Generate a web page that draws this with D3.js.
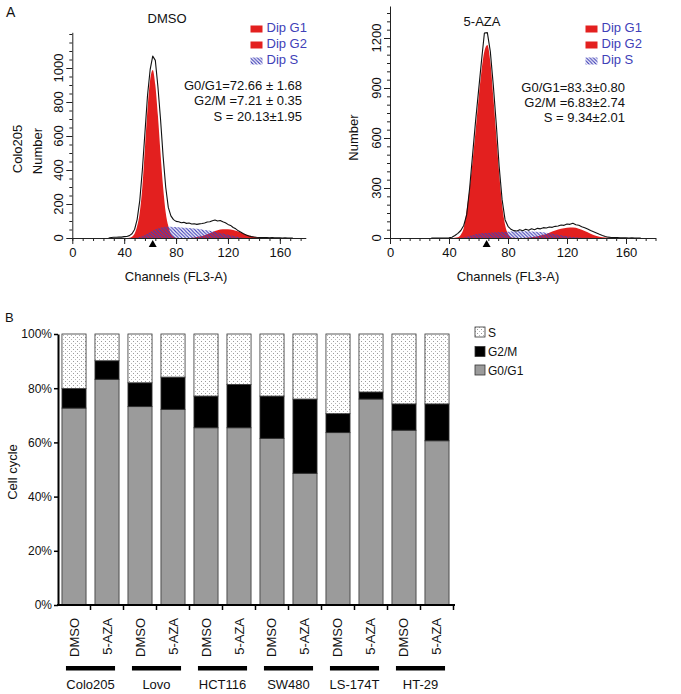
<!DOCTYPE html>
<html><head><meta charset="utf-8">
<script src="https://cdn.jsdelivr.net/npm/d3@7"></script>
<style>body{margin:0;background:#fff} svg{display:block} text{font-family:Arial,"Liberation Sans",sans-serif;fill:#111}</style>
</head><body>
<svg id="fig" width="681" height="694"></svg>
<script>
// ---------- Panel A data (flow-cytometry histograms) ----------
const outlineChannels = d3.range(28, 172, 2);
const dmsoOutline = [0,3,4,4,6,5,8,9,14,25,50,110,220,400,620,840,990,1070,1045,890,700,480,300,180,130,108,98,96,90,92,86,88,82,84,80,83,85,88,94,96,102,106,100,103,95,90,80,74,62,54,42,34,25,18,12,8,6,4,3,3,2,2,1,2,1,1,1,0,1,0,0,0];
const azaOutline  = [0,0,0,0,0,0,1,5,15,28,45,75,140,300,500,700,880,1060,1230,1232,1120,920,690,430,230,110,70,52,44,42,50,44,52,46,55,50,58,55,62,60,66,64,70,72,78,76,84,82,88,80,76,68,62,54,45,38,30,22,15,9,5,3,2,2,1,1,1,0,1,0,0,0];

const dmsoG1Ch = d3.range(42, 84, 2);
const dmsoG1   = [0,2,8,25,70,150,300,530,760,930,988,900,720,500,300,150,70,25,8,2,0];
const azaG1Ch  = d3.range(42, 88, 2);
const azaG1    = [0,2,5,20,60,170,300,460,640,830,1000,1120,1158,1060,850,620,390,200,80,25,5,1,0];

const g2Ch   = d3.range(88, 156, 4);
const dmsoG2 = [0,2,6,12,22,34,45,51,52,47,38,27,16,8,3,1,0];
const azaG2  = [0,2,5,10,19,32,45,55,62,63,56,42,26,12,4,1,0];

const sCh    = d3.range(48, 140, 4);
const dmsoS  = [0,6,18,35,50,60,66,66,64,62,60,57,54,50,45,40,33,26,19,12,6,2,0];
const azaS   = [0,8,18,25,30,32,34,36,38,40,40,40,39,37,34,29,23,17,11,6,3,1,0];

const legendLabels = ["Dip G1","Dip G2","Dip S"];
const dmsoStats = ["G0/G1=72.66 \u00b1 1.68","G2/M =7.21 \u00b1 0.35","S = 20.13\u00b11.95"];
const azaStats  = ["G0/G1=83.3\u00b10.80","G2/M =6.83\u00b12.74","S = 9.34\u00b12.01"];
const dmsoYTicks = [0,200,400,600,800,1000];
const azaYTicks  = [0,300,600,900,1200];
const xTicks = [0,40,80,120,160];

// ---------- Panel B data (stacked cell-cycle bars) ----------
const cellLines  = ["Colo205","Lovo","HCT116","SW480","LS-174T","HT-29"];
const treatments = ["DMSO","5-AZA"];
const g0g1  = [72.66,83.3,73.2,72.2,65.4,65.4,61.5,48.6,63.6,76.0,64.5,60.6];
const g2m   = [7.21,6.83,8.8,11.9,11.7,16.0,15.6,27.4,7.0,2.6,9.7,13.6];
const sPh   = [20.13,9.87,18.0,15.9,22.9,18.6,22.9,24.0,29.4,21.4,25.8,25.8];
const pctTicks = [0,20,40,60,80,100];

const RED = "#e3201f";
const BLUE = "#4040b8";
const svg = d3.select("#fig");
const defs = svg.append("defs");
const hatch = defs.append("pattern").attr("id","hatch").attr("patternUnits","userSpaceOnUse")
  .attr("width",3.5).attr("height",3.5);
hatch.append("path").attr("d","M-1,-1L4.5,4.5M-1,2.5L1,4.5M2.5,-1L4.5,1").attr("stroke",BLUE).attr("stroke-width",1.1);
const dots = defs.append("pattern").attr("id","dots").attr("patternUnits","userSpaceOnUse")
  .attr("width",4).attr("height",4);
dots.append("rect").attr("width",4).attr("height",4).attr("fill","#fff");
dots.append("rect").attr("x",1).attr("y",1).attr("width",1).attr("height",1).attr("fill","#9a9a9a");
dots.append("rect").attr("x",3).attr("y",3).attr("width",1).attr("height",1).attr("fill","#b5b5b5");

svg.append("text").attr("x",6).attr("y",17).attr("font-size",14).text("A");

function drawHist(p){
  const x = d3.scaleLinear().domain([0,180]).range(p.xr);
  const y = d3.scaleLinear().domain([0,p.ymax]).range([238,p.ytop]);
  const g = svg.append("g");
  const area = d3.area().x(d=>x(d[0])).y0(y(0)).y1(d=>y(d[1])).curve(d3.curveMonotoneX);
  g.append("path").datum(d3.zip(p.g1Ch,p.g1)).attr("d",area).attr("fill",RED);
  g.append("path").datum(d3.zip(g2Ch,p.g2)).attr("d",area).attr("fill",RED);
  g.append("path").datum(d3.zip(sCh,p.s)).attr("d",area).attr("fill","url(#hatch)");
  const line = d3.line().x(d=>x(d[0])).y(d=>y(d[1]));
  g.append("path").datum(d3.zip(outlineChannels,p.out)).attr("d",line)
    .attr("fill","none").attr("stroke","#111").attr("stroke-width",1.1).attr("stroke-linejoin","round");

  // x axis
  const minorX = d3.range(0,180.01,40/p.xsub);
  g.append("g").attr("transform","translate(0,238)")
    .call(d3.axisBottom(x).tickValues(minorX).tickSize(3).tickSizeOuter(0).tickFormat(""))
    .call(a=>a.selectAll("line,path").attr("stroke","#222"));
  g.append("g").attr("transform","translate(0,238)")
    .call(d3.axisBottom(x).tickValues(xTicks).tickSize(6).tickSizeOuter(0).tickFormat(d3.format("d")))
    .call(a=>{a.select(".domain").remove();a.selectAll("line").attr("stroke","#222");
      a.selectAll("text").attr("font-size",13).attr("font-family","Arial,'Liberation Sans',sans-serif").attr("fill","#111").attr("y",10);});
  g.append("text").attr("x",x(80)).attr("y",281).attr("text-anchor","middle").attr("font-size",13).text("Channels (FL3-A)");

  // y axis
  const minorY = d3.range(0,p.ymax+0.1,p.yminor);
  g.append("g").attr("transform",`translate(${p.xr[0]},0)`)
    .call(d3.axisLeft(y).tickValues(minorY).tickSize(3).tickSizeOuter(0).tickFormat(""))
    .call(a=>a.selectAll("line,path").attr("stroke","#222"));
  g.append("g").attr("transform",`translate(${p.xr[0]},0)`)
    .call(d3.axisLeft(y).tickValues(p.yticks).tickSize(6).tickSizeOuter(0).tickFormat(""))
    .call(a=>{a.select(".domain").remove();a.selectAll("line").attr("stroke","#222");});
  g.selectAll(".ylab").data(p.yticks).join("text")
    .attr("transform",d=>`translate(${p.xr[0]-9},${y(d)}) rotate(-90)`)
    .attr("text-anchor","middle").attr("font-size",13).text(d=>d);
  p.ytitles.forEach(t=>{
    g.append("text").attr("transform",`translate(${t[0]},${t[1]}) rotate(-90)`)
      .attr("text-anchor","middle").attr("font-size",13).text(t[2]);
  });

  // marker triangle
  const tx = x(p.tri);
  g.append("path").attr("d",`M${tx-4},247L${tx+4},247L${tx},240Z`).attr("fill","#000");

  // title
  g.append("text").attr("x",p.title[0]).attr("y",p.title[1]).attr("text-anchor","middle").attr("font-size",13).text(p.title[2]);

  // legend
  legendLabels.forEach((l,i)=>{
    const by = 32 + i*16;
    g.append("rect").attr("x",p.legX).attr("y",by-6.5).attr("width",12).attr("height",7)
      .attr("fill", i<2 ? RED : "url(#hatch)");
    g.append("text").attr("x",p.legX+16).attr("y",by).attr("font-size",13).style("fill",BLUE).text(l);
  });
  // stats
  p.stats.forEach((s,i)=>{
    g.append("text").attr("x",p.statX).attr("y",p.statY+i*15.3).attr("text-anchor","end").attr("font-size",13).text(s);
  });
}

drawHist({xr:[72.3,305.8], ymax:1210, ytop:32.3, yminor:50, yticks:dmsoYTicks, xsub:5,
  g1Ch:dmsoG1Ch, g1:dmsoG1, g2:dmsoG2, s:dmsoS, out:dmsoOutline, tri:62,
  ytitles:[[22,149,"Colo205"],[41.5,151,"Number"]], title:[167,23,"DMSO"],
  legX:250.5, stats:dmsoStats, statX:302, statY:90});
drawHist({xr:[390,655.5], ymax:1392, ytop:6, yminor:50, yticks:azaYTicks, xsub:6,
  g1Ch:azaG1Ch, g1:azaG1, g2:azaG2, s:azaS, out:azaOutline, tri:65.5,
  ytitles:[[358,137.5,"Number"]], title:[482,26,"5-AZA"],
  legX:585.5, stats:azaStats, statX:625, statY:91.5});

// ---------- Panel B ----------
svg.append("text").attr("x",5).attr("y",322).attr("font-size",13).text("B");
const idx = d3.range(cellLines.length*treatments.length);
const xb = d3.scaleBand().domain(idx).range([58,453]).paddingInner(0.27).paddingOuter(0.12);
const yb = d3.scaleLinear().domain([0,100]).range([605,334]);
const rows = idx.map(i=>({i, "G0/G1":g0g1[i], "G2/M":g2m[i], "S":sPh[i]}));
const keys = ["G0/G1","G2/M","S"];
const fills = {"G0/G1":"#9b9b9b","G2/M":"#000","S":"url(#dots)"};
const stack = d3.stack().keys(keys)(rows);
const gb = svg.append("g");
gb.selectAll("g.ser").data(stack).join("g").attr("fill",s=>fills[s.key])
  .selectAll("rect").data(s=>s).join("rect")
  .attr("x",d=>xb(d.data.i)).attr("width",xb.bandwidth())
  .attr("y",d=>yb(Math.min(d[1],100))).attr("height",d=>yb(d[0])-yb(Math.min(d[1],100)))
  .attr("stroke","#333").attr("stroke-width",0.8);

// axes
gb.append("g").attr("transform","translate(58,0)")
  .call(d3.axisLeft(yb).tickValues(pctTicks).tickSize(4).tickSizeOuter(0).tickFormat(d=>d+"%"))
  .call(a=>{a.select(".domain").attr("stroke","#000").attr("stroke-width",2);
    a.selectAll("line").attr("stroke","#000").attr("stroke-width",1.5);
    a.selectAll("text").attr("font-size",12).attr("font-family","Arial,'Liberation Sans',sans-serif").attr("fill","#111").attr("x",-6);});
gb.append("line").attr("x1",57).attr("x2",455).attr("y1",605).attr("y2",605).attr("stroke","#000").attr("stroke-width",2);
gb.selectAll("line.bt").data(idx).join("line")
  .attr("x1",i=>xb(i)+xb.bandwidth()+xb.step()*xb.paddingInner()/2)
  .attr("x2",i=>xb(i)+xb.bandwidth()+xb.step()*xb.paddingInner()/2)
  .attr("y1",605).attr("y2",610).attr("stroke","#000").attr("stroke-width",1.5);

gb.append("text").attr("transform","translate(17,472) rotate(-90)").attr("text-anchor","middle").attr("font-size",13).text("Cell cycle");

// treatment labels
gb.selectAll("text.tr").data(idx).join("text")
  .attr("transform",i=>`translate(${xb(i)+xb.bandwidth()/2+4.5},618) rotate(-90)`)
  .attr("text-anchor","end").attr("font-size",13).text(i=>treatments[i%2]);
// group lines + labels
cellLines.forEach((c,k)=>{
  const x0 = xb(2*k)+4, x1 = xb(2*k+1)+xb.bandwidth()-4;
  gb.append("rect").attr("x",x0).attr("y",666).attr("width",x1-x0).attr("height",4.5).attr("fill","#000");
  gb.append("text").attr("x",(x0+x1)/2).attr("y",689).attr("text-anchor","middle").attr("font-size",13).text(c);
});

// legend
["S","G2/M","G0/G1"].forEach((k,j)=>{
  const yy = [327,346.5,365][j];
  gb.append("rect").attr("x",475).attr("y",yy).attr("width",10).attr("height",10)
    .attr("fill",fills[k]).attr("stroke","#333").attr("stroke-width",0.8);
  gb.append("text").attr("x",488).attr("y",yy+9.5).attr("font-size",12).text(k);
});
</script></body></html>
